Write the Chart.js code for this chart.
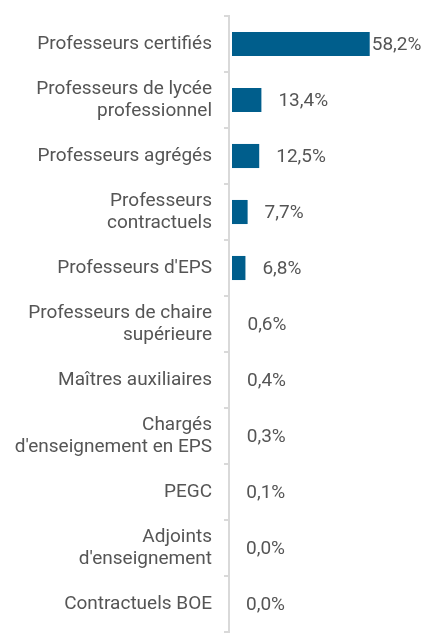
<!DOCTYPE html>
<html>
<head>
<meta charset="utf-8">
<script src="https://cdn.jsdelivr.net/npm/chart.js@4/dist/chart.umd.min.js"></script>
<style>
  html, body { margin: 0; padding: 0; background: #fff; }
  #wrap { width: 427px; height: 635px; position: relative; }
</style>
</head>
<body>
<div id="wrap"><canvas id="chart"></canvas></div>
<script>
const categories = [
  'Professeurs certifiés',
  ['Professeurs de lycée', 'professionnel'],
  'Professeurs agrégés',
  ['Professeurs', 'contractuels'],
  "Professeurs d'EPS",
  ['Professeurs de chaire', 'supérieure'],
  'Maîtres auxiliaires',
  ['Chargés', "d'enseignement en EPS"],
  'PEGC',
  ['Adjoints', "d'enseignement"],
  'Contractuels BOE',
];
const shares = [58.2, 13.4, 12.5, 7.7, 6.8, 0.6, 0.4, 0.3, 0.1, 0.0, 0.0];

const AXIS_GREY = '#d9d9d9';
const TEXT_GREY = '#555';
const fmt = v => v.toFixed(1).replace('.', ',') + '%';

// keep a small gap between the axis and the bars, then write the values
const valueLabels = {
  id: 'valueLabels',
  afterDatasetsDraw(chart) {
    const { ctx, chartArea } = chart;
    ctx.save();
    ctx.fillStyle = '#fff';
    ctx.fillRect(chartArea.left + 1, chartArea.top, 2, chartArea.bottom - chartArea.top);
    ctx.strokeStyle = AXIS_GREY;
    ctx.lineWidth = 2;
    ctx.beginPath();
    ctx.moveTo(chartArea.left, chartArea.top);
    ctx.lineTo(chartArea.left, chartArea.bottom);
    ctx.stroke();

    ctx.font = '19px Roboto';
    ctx.fillStyle = TEXT_GREY;
    ctx.textBaseline = 'middle';
    ctx.textAlign = 'left';
    chart.getDatasetMeta(0).data.forEach((bar, i) => {
      const txt = fmt(shares[i]);
      const w = ctx.measureText(txt).width;
      let x = bar.x + 17;
      if (x + w > chartArea.right) x = bar.x + 2;
      ctx.fillText(txt, x, bar.y + 1);
    });
    ctx.restore();
  },
};

new Chart(document.getElementById('chart').getContext('2d'), {
  type: 'bar',
  data: {
    labels: categories,
    datasets: [{
      data: shares,
      backgroundColor: '#005e8c',
      barPercentage: 0.43,
      categoryPercentage: 1,
    }],
  },
  options: {
    indexAxis: 'y',
    responsive: true,
    maintainAspectRatio: false,
    animation: false,
    layout: { padding: { top: 16, right: 7, bottom: 3, left: 0 } },
    plugins: {
      legend: { display: false },
      tooltip: { enabled: false },
    },
    scales: {
      x: {
        display: false,
        min: 0,
        max: 79,
      },
      y: {
        // the labels need more room than Chart.js gives a side axis by default,
        // and no extra space above/below the first and last category
        afterFit: scale => {
          scale.width = 229;
          scale.paddingTop = 0;
          scale.paddingBottom = 0;
        },
        grid: {
          offset: true,
          drawOnChartArea: false,
          drawTicks: true,
          tickLength: 5,
          color: AXIS_GREY,
          lineWidth: 2,
        },
        border: { color: AXIS_GREY, width: 2 },
        ticks: {
          color: TEXT_GREY,
          padding: 12,
          font: { family: 'Roboto', size: 19, lineHeight: 1.18 },
        },
      },
    },
  },
  plugins: [valueLabels],
});
</script>
</body>
</html>
